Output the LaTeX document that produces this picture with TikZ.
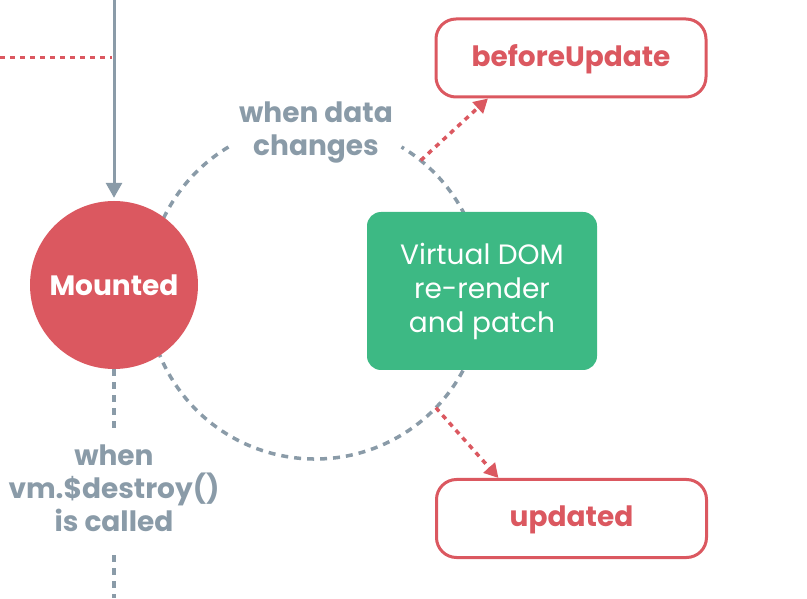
\documentclass[tikz,border=0pt]{standalone}
\usepackage{fontspec}
\setmainfont{Poppins}
\usetikzlibrary{arrows.meta}
\definecolor{vuered}{HTML}{DB5860}
\definecolor{vuegreen}{HTML}{3DB984}
\definecolor{vuegray}{HTML}{8A9BA8}

\begin{document}
\begin{tikzpicture}[x=1pt, y=1pt,
  redbox/.style = {draw=vuered, line width=3pt, rounded corners=20pt, minimum width=270pt, minimum height=78pt, text=vuered, text height=20pt, text depth=3pt, font=\fontsize{28}{33}\selectfont\bfseries},
  graylabel/.style = {text=vuegray, align=center, font=\fontsize{28}{33}\selectfont\bfseries},
  graydash/.style = {draw=vuegray, line width=3.5pt, dash pattern=on 7pt off 6pt},
  reddot/.style = {draw=vuered, line width=3.5pt, dash pattern=on 5pt off 5pt}]
\useasboundingbox (0,0) rectangle (807,598);
% the update loop, under the nodes
\draw [graydash] (315,307) ++(121:168) arc[start angle = 121, end angle = 419, radius = 168];
\path (315,307) ++(51:168) coordinate (upstart);
\path (315,307) ++(-44:168) coordinate (downstart);
\node (mounted) [circle, fill=vuered, minimum size=168pt, inner sep=0pt, text=white, font=\fontsize{28}{33}\selectfont\bfseries] at (114,313) {Mounted};
\node (vdom) [fill=vuegreen, rounded corners=14pt, minimum width=230pt, minimum height=158pt, text=white, align=center, font=\fontsize{28}{34}\selectfont] at (482,307) {Virtual DOM\\re-render\\and patch};
\node (before) [redbox] at (571,540) {beforeUpdate};
\node (updated) [redbox] at (571.5,79.5) {updated};
\node (datalabel) [graylabel] at (316,466) {when data\\changes};
\node (destroylabel) [graylabel] at (114,110) {when\\vm.\$destroy()\\is called};
\coordinate (top) at (114,598);
\coordinate (bottom) at (114,0);
\coordinate (leftend) at (0,540);
\coordinate (join) at (112,540);
\draw [draw=vuegray, line width=3pt, -{Triangle[length=15pt, width=16pt]}, shorten >=3pt] (top) -- (mounted);
\draw [reddot, line width=3pt] (leftend) -- (join);
\draw [graydash, shorten >=12pt] (mounted) -- (destroylabel);
\draw [graydash, shorten <=20pt] (destroylabel) -- (bottom);
\draw [reddot, -{Triangle[length=14pt, width=15pt]}] (upstart) -- (before.206);
\draw [reddot, -{Triangle[length=14pt, width=15pt]}] (downstart) -- (updated.151);
\end{tikzpicture}
\end{document}
